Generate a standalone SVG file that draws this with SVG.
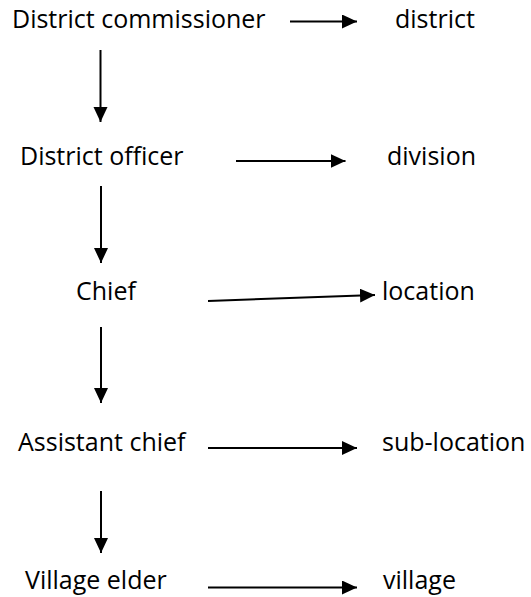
<svg xmlns="http://www.w3.org/2000/svg" width="531" height="597" viewBox="0 0 531 597">
<style>
text{font-family:"Open Sans","Noto Sans","Liberation Sans",sans-serif;font-size:25px;fill:#000}
.c line{stroke:#000;stroke-width:2;marker-end:url(#ah)}
</style>
<defs>
<marker id="ah" markerUnits="userSpaceOnUse" markerWidth="16" markerHeight="15" refX="15" refY="7" orient="auto" viewBox="0 0 16 15">
<path d="M0,0 L15,7 L0,14 z" fill="#000"/>
</marker>
</defs>
<rect width="531" height="597" fill="#fff"/>
<g id="n-dc"><text x="12" y="28">District commissioner</text></g>
<g id="n-district"><text x="395" y="28">district</text></g>
<g id="n-do"><text x="20" y="165">District officer</text></g>
<g id="n-division"><text x="387" y="165">division</text></g>
<g id="n-chief"><text x="76" y="300">Chief</text></g>
<g id="n-location"><text x="382" y="300">location</text></g>
<g id="n-ac"><text x="18" y="451">Assistant chief</text></g>
<g id="n-sublocation"><text x="382" y="451">sub-location</text></g>
<g id="n-ve"><text x="25" y="589">Village elder</text></g>
<g id="n-village"><text x="383" y="589">village</text></g>
<g id="connectors" class="c">
<line x1="290" y1="21.5" x2="357" y2="21.5"/>
<line x1="100.5" y1="50" x2="100.5" y2="122"/>
<line x1="236" y1="161" x2="345.5" y2="161"/>
<line x1="101" y1="186" x2="101" y2="263"/>
<line x1="208" y1="301" x2="375" y2="295"/>
<line x1="101" y1="327" x2="101" y2="403"/>
<line x1="208" y1="448" x2="357" y2="448"/>
<line x1="101" y1="491" x2="101" y2="553"/>
<line x1="208" y1="587.5" x2="357" y2="587.5"/>
</g>
</svg>
